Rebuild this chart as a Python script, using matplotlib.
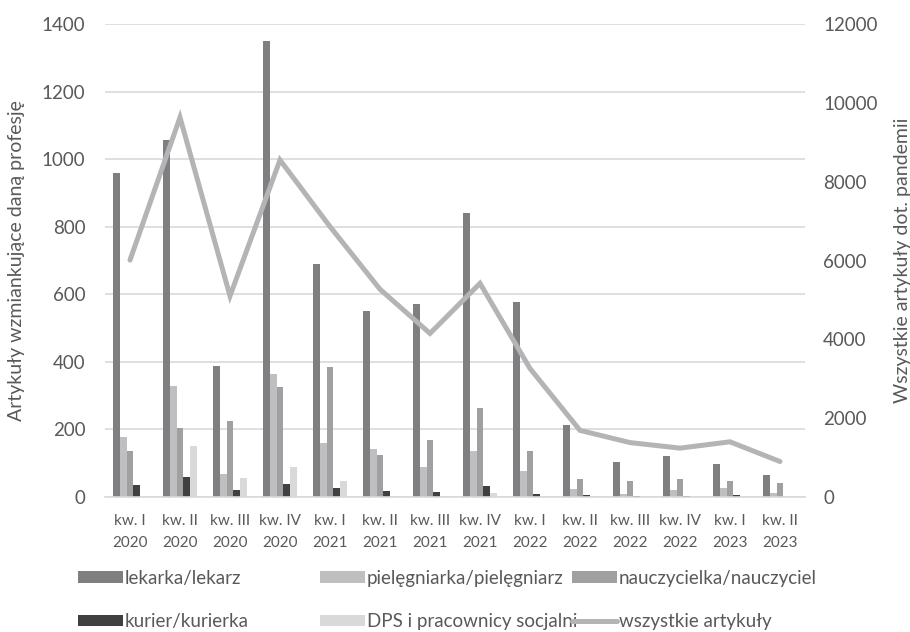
import matplotlib
matplotlib.use("Agg")
import matplotlib.pyplot as plt
import numpy as np

plt.rcParams['font.family'] = ['Lato', 'DejaVu Sans']

quarters = ["kw. I\n2020", "kw. II\n2020", "kw. III\n2020", "kw. IV\n2020",
            "kw. I\n2021", "kw. II\n2021", "kw. III\n2021", "kw. IV\n2021",
            "kw. I\n2022", "kw. II\n2022", "kw. III\n2022", "kw. IV\n2022",
            "kw. I\n2023", "kw. II\n2023"]

lekarz = [960, 1057, 388, 1350, 690, 551, 571, 840, 577, 212, 104, 121, 99, 65]
pielegniarz = [177, 329, 67, 363, 161, 143, 90, 137, 78, 25, 10, 22, 27, 13]
nauczyciel = [137, 203, 225, 325, 384, 123, 169, 263, 135, 52, 47, 53, 48, 40]
kurier = [36, 60, 21, 37, 28, 18, 14, 34, 9, 6, 3, 3, 5, 1]
dps = [0, 150, 57, 88, 47, 4, 2, 13, 2, 2, 0, 0, 0, 0]
wszystkie = [6010, 9630, 5100, 8550, 6860, 5270, 4150, 5420, 3260, 1690, 1380, 1240, 1400, 900]

series = [
    ("lekarka/lekarz", lekarz, "#7f7f81"),
    ("pielęgniarka/pielęgniarz", pielegniarz, "#bfbfc1"),
    ("nauczycielka/nauczyciel", nauczyciel, "#a0a0a2"),
    ("kurier/kurierka", kurier, "#404040"),
    ("DPS i pracownicy socjalni", dps, "#d9d9d9"),
]

TXT = "#595959"
fig = plt.figure(figsize=(9.1, 6.32), dpi=100)
ax = fig.add_axes([105 / 910, 1 - 497 / 632, 700 / 910, 473 / 632])
ax2 = ax.twinx()

x = np.arange(len(quarters))
bw = 0.134
handles = {}
for i, (name, vals, col) in enumerate(series):
    b = ax.bar(x + (i - 2) * bw, vals, width=bw, color=col, label=name, zorder=2)
    handles[name] = b

ln, = ax2.plot(x, wszystkie, color="#b4b4b6", lw=3.6, solid_capstyle="round",
               solid_joinstyle="miter", label="wszystkie artykuły", zorder=3)
handles["wszystkie artykuły"] = ln

ax.set_xlim(-0.5, len(quarters) - 0.5)
ax.set_ylim(0, 1400)
ax.set_yticks(range(0, 1401, 200))
ax2.set_ylim(0, 12000)
ax2.set_yticks(range(0, 12001, 2000))

ax.yaxis.grid(True, color="#d9d9d9", lw=1.2, zorder=0)
ax.set_axisbelow(True)
for a in (ax, ax2):
    for s in a.spines.values():
        s.set_visible(False)
    a.tick_params(length=0)
ax.spines['bottom'].set_visible(True)
ax.spines['bottom'].set_color("#d9d9d9")
ax.spines['bottom'].set_linewidth(1.2)

ax.set_xticks(x)
ax.set_xticklabels(quarters, fontsize=11, color=TXT, linespacing=1.8)
ax.tick_params(axis='x', pad=12)
ax.tick_params(axis='y', labelsize=13.5, labelcolor=TXT, pad=14)
ax2.tick_params(axis='y', labelsize=13.5, labelcolor=TXT, pad=13)

ax.set_ylabel("Artykuły wzmiankujące daną profesję", fontsize=14, color=TXT, labelpad=12)
ax2.set_ylabel("Wszystkie artykuły dot. pandemii", fontsize=14, color=TXT, labelpad=12)

# legend: three fixed-position columns, two rows each
columns = [
    (["lekarka/lekarz", "kurier/kurierka"], 78),
    (["pielęgniarka/pielęgniarz", "DPS i pracownicy socjalni"], 320),
    (["nauczycielka/nauczyciel", "wszystkie artykuły"], 572),
]
for names, left_px in columns:
    leg = fig.legend([handles[n] for n in names], names, loc="center left",
                     bbox_to_anchor=(left_px / 910, 1 - 600 / 632),
                     frameon=False, fontsize=13.5, handlelength=2.4, handleheight=0.55,
                     handletextpad=0.1, labelspacing=1.42, labelcolor=TXT,
                     borderpad=0, borderaxespad=0)

fig.savefig("out.png", dpi=100)
